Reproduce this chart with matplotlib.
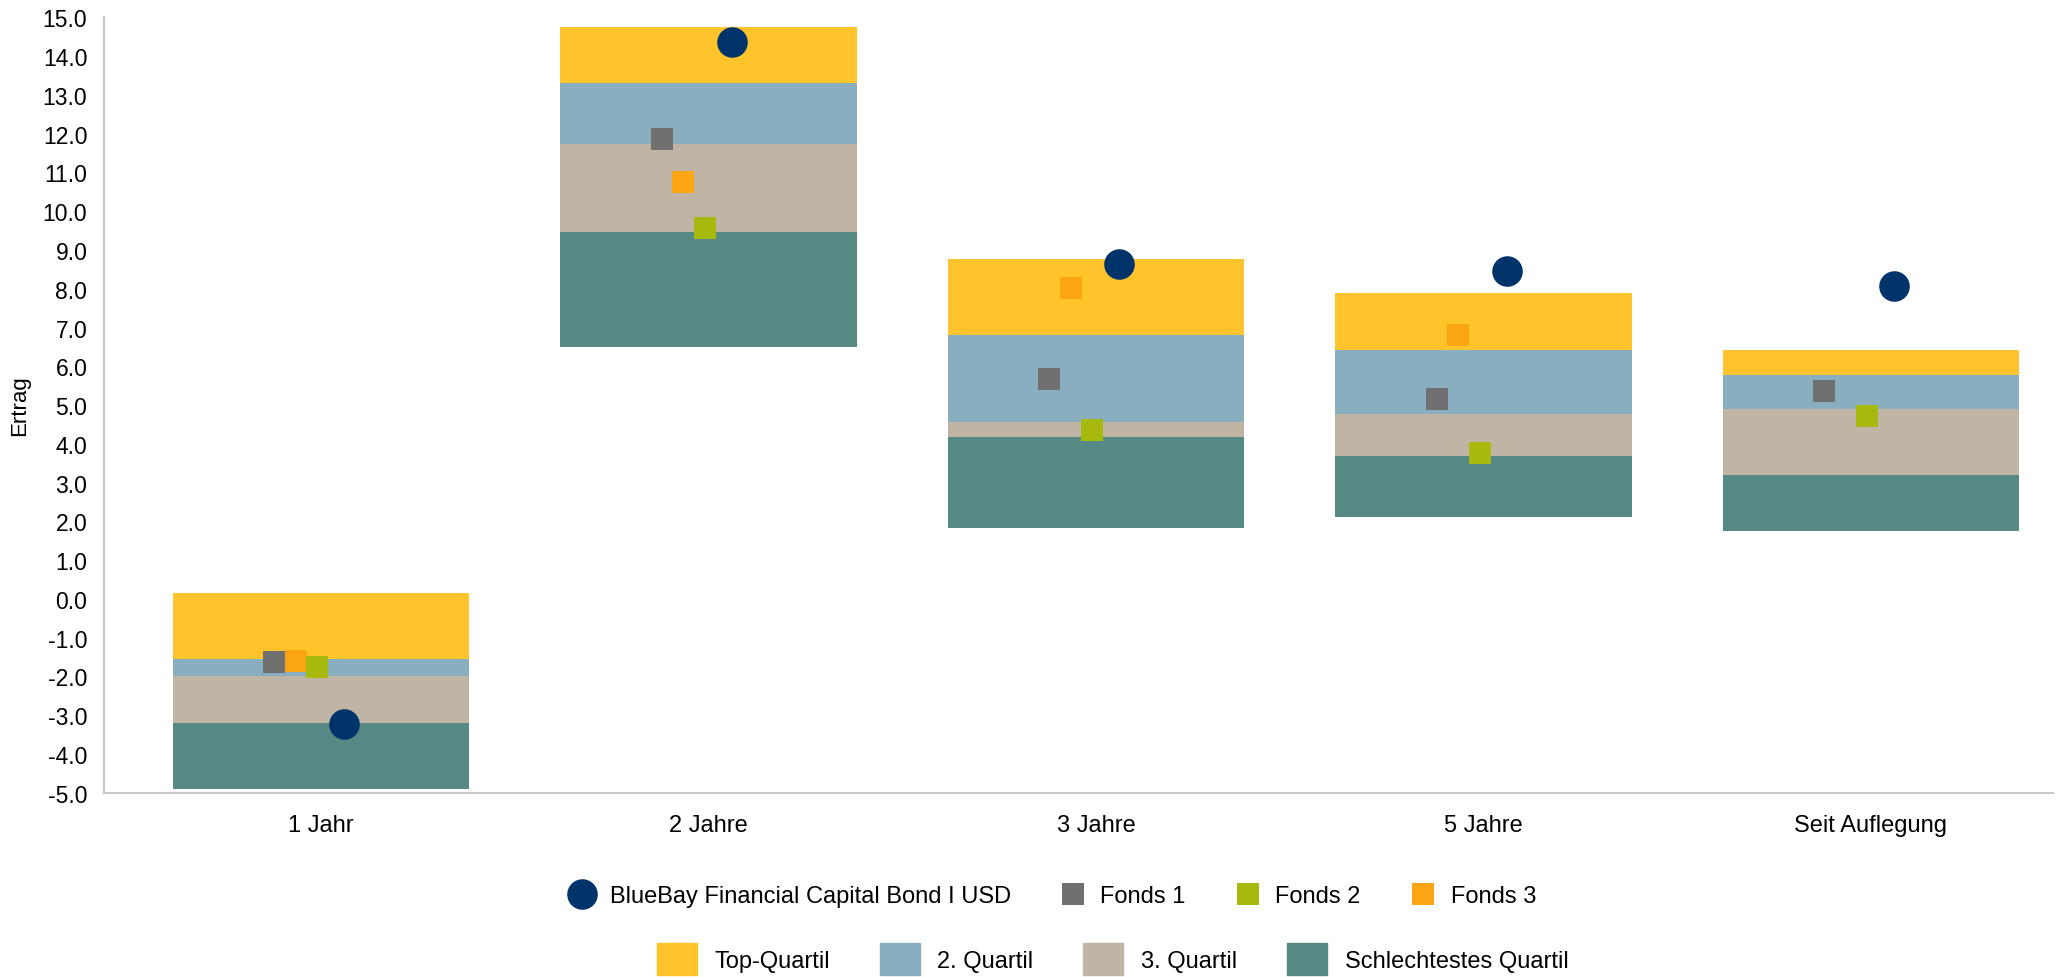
import numpy as np
import matplotlib
matplotlib.use("Agg")
import matplotlib.pyplot as plt
from matplotlib.patches import Patch
from matplotlib.lines import Line2D

plt.rcParams['font.family'] = ['Liberation Sans', 'DejaVu Sans']

categories = ["1 Jahr", "2 Jahre", "3 Jahre", "5 Jahre", "Seit Auflegung"]

# quartile boundaries
q_bottom = [-4.90, 6.51, 1.84, 2.12, 1.76]
q_worst_top = [-3.20, 9.46, 4.18, 3.68, 3.19]
q_third_top = [-1.99, 11.74, 4.55, 4.77, 4.90]
q_second_top = [-1.55, 13.32, 6.81, 6.42, 5.77]
q_top_top = [0.16, 14.75, 8.77, 7.89, 6.42]

bluebay = [-3.24, 14.36, 8.63, 8.47, 8.08]
fonds1 = [-1.62, 11.86, 5.67, 5.15, 5.36]
fonds2 = [-1.76, 9.57, 4.36, 3.76, 4.72]
fonds3 = [-1.60, 10.76, 8.02, 6.81, np.nan]

yticks = np.arange(-5, 15.1, 1.0)

c_top = "#FFC42C"
c_second = "#88AEBF"
c_third = "#C0B4A5"
c_worst = "#578984"
c_bluebay = "#00336A"
c_f1 = "#707070"
c_f2 = "#A8B90D"
c_f3 = "#FBA414"

fig = plt.figure(figsize=(20.6, 9.78), dpi=100)
ax = fig.add_axes([104/2060, 1-793.7/978, (2053-104)/2060, (793.7-18.4)/978])

x = np.arange(len(categories))
w = 0.765
bottom = np.array(q_bottom)
layers = [(q_worst_top, c_worst), (q_third_top, c_third),
          (q_second_top, c_second), (q_top_top, c_top)]
for tops, col in layers:
    tops = np.array(tops)
    ax.bar(x, tops - bottom, bottom=bottom, width=w, color=col, zorder=2)
    bottom = tops

ms_sq = 16
ax.plot(x - 0.12, fonds1, 's', color=c_f1, ms=ms_sq, mew=0, zorder=3)
ax.plot(x - 0.065, fonds3, 's', color=c_f3, ms=ms_sq, mew=0, zorder=3)
ax.plot(x - 0.01, fonds2, 's', color=c_f2, ms=ms_sq, mew=0, zorder=3)
ax.plot(x + 0.06, bluebay, 'o', color=c_bluebay, ms=22, mew=0, zorder=4)

ax.set_xlim(-0.56, 4.47)
ax.set_ylim(-5, 15)
ax.set_yticks(yticks)
ax.set_yticklabels([f"{v:.1f}" for v in yticks])
ax.set_xticks(x)
ax.set_xticklabels(categories)
ax.tick_params(axis='y', length=0, pad=12, labelsize=16.5)
ax.tick_params(axis='x', length=0, pad=15, labelsize=17)
for s in ["top", "right"]:
    ax.spines[s].set_visible(False)
for s in ["left", "bottom"]:
    ax.spines[s].set_color("#C8C8C8")
    ax.spines[s].set_linewidth(1.5)
ax.set_ylabel("Ertrag", fontsize=16, labelpad=9)

h1 = [Line2D([], [], marker='o', ls='', color=c_bluebay, ms=22, mew=0),
      Line2D([], [], marker='s', ls='', color=c_f1, ms=ms_sq, mew=0),
      Line2D([], [], marker='s', ls='', color=c_f2, ms=ms_sq, mew=0),
      Line2D([], [], marker='s', ls='', color=c_f3, ms=ms_sq, mew=0)]
l1 = ["BlueBay Financial Capital Bond I USD", "Fonds 1", "Fonds 2", "Fonds 3"]
fig.legend(h1, l1, loc='center', bbox_to_anchor=(0.511, 0.083), ncol=4,
           frameon=False, fontsize=17, handlelength=1.1, handletextpad=0.6,
           columnspacing=2.1)

h2 = [Patch(color=c_top), Patch(color=c_second), Patch(color=c_third), Patch(color=c_worst)]
l2 = ["Top-Quartil", "2. Quartil", "3. Quartil", "Schlechtestes Quartil"]
fig.legend(h2, l2, loc='center', bbox_to_anchor=(0.540, 0.0184), ncol=4,
           frameon=False, fontsize=17, handlelength=1.7, handleheight=1.65,
           handletextpad=0.75, columnspacing=2.1)

fig.savefig("out.png", dpi=100)
